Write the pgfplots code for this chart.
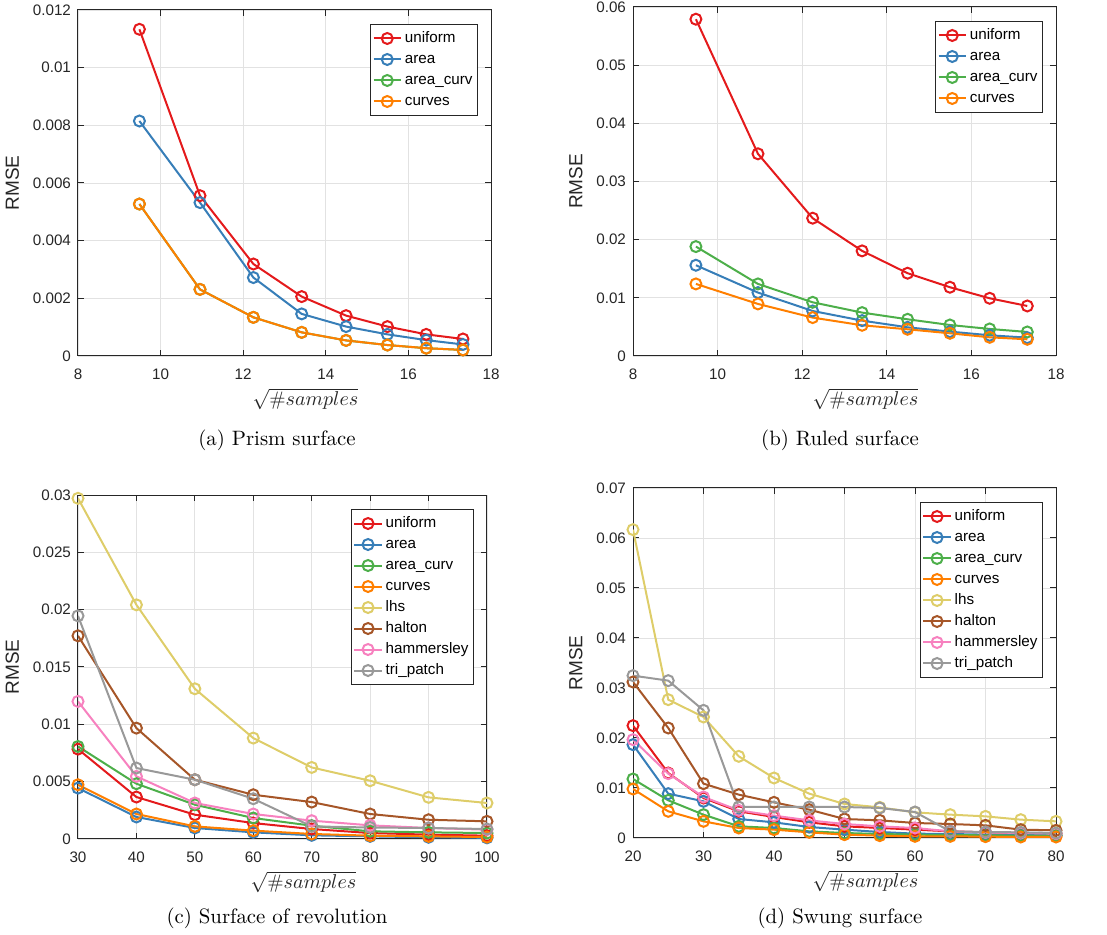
\documentclass[border=0pt]{standalone}
\usepackage{pgfplots}
\pgfplotsset{compat=1.18}
\usepackage{fontspec}
\newfontfamily\arialfont{Liberation Sans}
\definecolor{cRed}{RGB}{228,26,28}
\definecolor{cBlue}{RGB}{55,126,184}
\definecolor{cGreen}{RGB}{77,175,74}
\definecolor{cOrange}{RGB}{255,127,0}
\definecolor{cYellow}{RGB}{222,205,105}
\definecolor{cBrown}{RGB}{166,86,40}
\definecolor{cPink}{RGB}{247,129,191}
\definecolor{cGray}{RGB}{153,153,153}
\definecolor{axgray}{RGB}{38,38,38}
\definecolor{gridgray}{RGB}{226,226,226}
\pgfplotsset{
  mstyle/.style={
    scale only axis,
    axis line style={draw=axgray, line width=0.5pt},
    tick style={draw=axgray, line width=0.5pt},
    major tick length=3pt,
    tick align=inside,
    grid=major,
    major grid style={draw=gridgray, line width=0.4pt},
    scaled y ticks=false,
    scaled x ticks=false,
    ticklabel style={font=\arialfont\fontsize{7.6}{9}\selectfont, text=axgray},
    /pgf/number format/assume math mode=true,
    xticklabel style={yshift=-3pt},
    ylabel={RMSE},
    ylabel style={font=\arialfont\fontsize{9.5}{11}\selectfont, text=axgray},
    xlabel={$\sqrt{\#samples}$},
    xlabel style={at={(axis description cs:0.5,0)}, anchor=center, xshift=10.5pt, yshift=-21.5pt, font=\fontsize{9.8}{12}\selectfont, text=axgray},
    legend style={at={(1,1)}, anchor=north east, xshift=-6.5pt, yshift=-7pt, draw=axgray, line width=0.5pt, fill=white,
      font=\arialfont\fontsize{7.6}{9}\selectfont, row sep=0.5pt, inner xsep=1pt, inner ysep=2pt,
      nodes={inner xsep=1.5pt, inner ysep=1pt, text height=6pt, text depth=2pt}},
    legend cell align=left,
    legend image code/.code={\draw[mark repeat=2,mark phase=2] plot coordinates {(0cm,0cm)(0.24cm,0cm)(0.48cm,0cm)};},
    every axis plot/.append style={line width=1pt, mark=o, mark size=2.75pt, mark options={line width=1pt, solid}},
  }
}
\begin{document}
\begin{tikzpicture}
% (a) Prism surface
\begin{axis}[mstyle, at={(39pt,289.5pt)}, anchor=south west, width=206.5pt, height=173pt,
  xmin=8, xmax=18, ymin=0, ymax=0.012,
  xtick={8,10,12,14,16,18},
  ytick={0,0.002,0.004,0.006,0.008,0.01,0.012},
  yticklabels={0,0.002,0.004,0.006,0.008,0.01,0.012}]
\addplot[cRed] coordinates {(9.487,0.01133)(10.954,0.00556)(12.247,0.00319)(13.416,0.00206)(14.491,0.00140)(15.492,0.00102)(16.432,0.00075)(17.321,0.00059)};
\addlegendentry{uniform}
\addplot[cBlue] coordinates {(9.487,0.00815)(10.954,0.00532)(12.247,0.00272)(13.416,0.00146)(14.491,0.00102)(15.492,0.00075)(16.432,0.00055)(17.321,0.00040)};
\addlegendentry{area}
\addplot[cGreen] coordinates {(9.487,0.00527)(10.954,0.00231)(12.247,0.00134)(13.416,0.00082)(14.491,0.00054)(15.492,0.00038)(16.432,0.00027)(17.321,0.00021)};
\addlegendentry{area\_curv}
\addplot[cOrange] coordinates {(9.487,0.00527)(10.954,0.00231)(12.247,0.00134)(13.416,0.00082)(14.491,0.00054)(15.492,0.00038)(16.432,0.00027)(17.321,0.00021)};
\addlegendentry{curves}
\end{axis}
% (b) Ruled surface
\begin{axis}[mstyle, at={(316.5pt,289.5pt)}, anchor=south west, width=211.5pt, height=174.5pt,
  xmin=8, xmax=18, ymin=0, ymax=0.06,
  xtick={8,10,12,14,16,18},
  ytick={0,0.01,0.02,0.03,0.04,0.05,0.06},
  yticklabels={0,0.01,0.02,0.03,0.04,0.05,0.06}]
\addplot[cRed] coordinates {(9.487,0.0579)(10.954,0.03476)(12.247,0.02369)(13.416,0.01807)(14.491,0.01423)(15.492,0.01182)(16.432,0.00992)(17.321,0.0086)};
\addlegendentry{uniform}
\addplot[cBlue] coordinates {(9.487,0.0156)(10.954,0.0109)(12.247,0.00774)(13.416,0.00608)(14.491,0.00493)(15.492,0.00419)(16.432,0.00356)(17.321,0.00315)};
\addlegendentry{area}
\addplot[cGreen] coordinates {(9.487,0.01881)(10.954,0.01239)(12.247,0.00923)(13.416,0.00746)(14.491,0.00631)(15.492,0.00533)(16.432,0.00465)(17.321,0.00413)};
\addlegendentry{area\_curv}
\addplot[cOrange] coordinates {(9.487,0.01239)(10.954,0.00895)(12.247,0.0066)(13.416,0.00528)(14.491,0.00459)(15.492,0.0039)(16.432,0.00321)(17.321,0.00287)};
\addlegendentry{curves}
\end{axis}
% (c) Surface of revolution
\begin{axis}[mstyle, at={(39pt,48pt)}, anchor=south west, width=204.5pt, height=172pt,
  xmin=30, xmax=100, ymin=0, ymax=0.03,
  xtick={30,40,50,60,70,80,90,100},
  ytick={0,0.005,0.01,0.015,0.02,0.025,0.03},
  yticklabels={0,0.005,0.01,0.015,0.02,0.025,0.03}]
\addplot[cRed] coordinates {(30,0.00784)(40,0.00366)(50,0.00212)(60,0.00139)(70,0.00087)(80,0.00052)(90,0.00038)(100,0.00029)};
\addlegendentry{uniform}
\addplot[cBlue] coordinates {(30,0.00444)(40,0.00192)(50,0.00096)(60,0.00058)(70,0.00032)(80,0.00023)(90,0.00015)(100,0.0001)};
\addlegendentry{area}
\addplot[cGreen] coordinates {(30,0.00807)(40,0.00482)(50,0.00299)(60,0.00183)(70,0.00116)(80,0.00067)(90,0.00058)(100,0.00052)};
\addlegendentry{area\_curv}
\addplot[cOrange] coordinates {(30,0.00473)(40,0.00218)(50,0.0011)(60,0.00073)(70,0.00044)(80,0.00029)(90,0.00023)(100,0.00017)};
\addlegendentry{curves}
\addplot[cYellow] coordinates {(30,0.02971)(40,0.02042)(50,0.0131)(60,0.0088)(70,0.00624)(80,0.00508)(90,0.00363)(100,0.00314)};
\addlegendentry{lhs}
\addplot[cBrown] coordinates {(30,0.01772)(40,0.00967)(50,0.00517)(60,0.00386)(70,0.00322)(80,0.00218)(90,0.00168)(100,0.00154)};
\addlegendentry{halton}
\addplot[cPink] coordinates {(30,0.012)(40,0.00546)(50,0.00314)(60,0.00218)(70,0.0016)(80,0.00119)(90,0.00096)(100,0.00081)};
\addlegendentry{hammersley}
\addplot[cGray] coordinates {(30,0.01946)(40,0.00619)(50,0.00517)(60,0.00351)(70,0.0011)(80,0.001)(90,0.00096)(100,0.00087)};
\addlegendentry{tri\_patch}
\end{axis}
% (d) Swung surface
\begin{axis}[mstyle, at={(316.5pt,48.5pt)}, anchor=south west, width=211.5pt, height=175pt,
  xmin=20, xmax=80, ymin=0, ymax=0.07,
  xtick={20,30,40,50,60,70,80},
  ytick={0,0.01,0.02,0.03,0.04,0.05,0.06,0.07},
  yticklabels={0,0.01,0.02,0.03,0.04,0.05,0.06,0.07}]
\addplot[cRed] coordinates {(20,0.02247)(25,0.013)(30,0.008)(35,0.00533)(40,0.0042)(45,0.00313)(50,0.00233)(55,0.002)(60,0.00167)(65,0.00133)(70,0.00113)(75,0.001)(80,0.00087)};
\addlegendentry{uniform}
\addplot[cBlue] coordinates {(20,0.01867)(25,0.00887)(30,0.00733)(35,0.0038)(40,0.00313)(45,0.0022)(50,0.00167)(55,0.0012)(60,0.00087)(65,0.0008)(70,0.00067)(75,0.0006)(80,0.00053)};
\addlegendentry{area}
\addplot[cGreen] coordinates {(20,0.0118)(25,0.00753)(30,0.00467)(35,0.00233)(40,0.002)(45,0.00133)(50,0.001)(55,0.0008)(60,0.00067)(65,0.0006)(70,0.00053)(75,0.00047)(80,0.00047)};
\addlegendentry{area\_curv}
\addplot[cOrange] coordinates {(20,0.0098)(25,0.00533)(30,0.00333)(35,0.002)(40,0.00167)(45,0.00113)(50,0.00067)(55,0.00047)(60,0.00033)(65,0.00033)(70,0.00027)(75,0.0002)(80,0.0002)};
\addlegendentry{curves}
\addplot[cYellow] coordinates {(20,0.06167)(25,0.02767)(30,0.0242)(35,0.01633)(40,0.012)(45,0.00887)(50,0.0068)(55,0.00613)(60,0.00513)(65,0.00467)(70,0.00433)(75,0.00367)(80,0.00333)};
\addlegendentry{lhs}
\addplot[cBrown] coordinates {(20,0.0312)(25,0.022)(30,0.01087)(35,0.00867)(40,0.00713)(45,0.00567)(50,0.0038)(55,0.00353)(60,0.003)(65,0.0028)(70,0.00253)(75,0.00167)(80,0.00153)};
\addlegendentry{halton}
\addplot[cPink] coordinates {(20,0.01967)(25,0.01287)(30,0.0082)(35,0.00553)(40,0.00447)(45,0.00353)(50,0.0028)(55,0.00233)(60,0.002)(65,0.00133)(70,0.00113)(75,0.001)(80,0.00087)};
\addlegendentry{hammersley}
\addplot[cGray] coordinates {(20,0.03247)(25,0.03147)(30,0.02553)(35,0.0062)(40,0.0062)(45,0.0062)(50,0.0062)(55,0.006)(60,0.0052)(65,0.00133)(70,0.0012)(75,0.00113)(80,0.001)};
\addlegendentry{tri\_patch}
\end{axis}
\node[font=\fontsize{10.4}{12}\selectfont] at (138.5pt,247.5pt) {(a) Prism surface};
\node[font=\fontsize{10.4}{12}\selectfont] at (420pt,247.5pt) {(b) Ruled surface};
\node[font=\fontsize{10.4}{12}\selectfont] at (138.5pt,8.5pt) {(c) Surface of revolution};
\node[font=\fontsize{10.4}{12}\selectfont] at (420pt,8.5pt) {(d) Swung surface};
\pgfresetboundingbox
\path (0,0) rectangle (553.5pt,467.5pt);
\end{tikzpicture}
\end{document}
